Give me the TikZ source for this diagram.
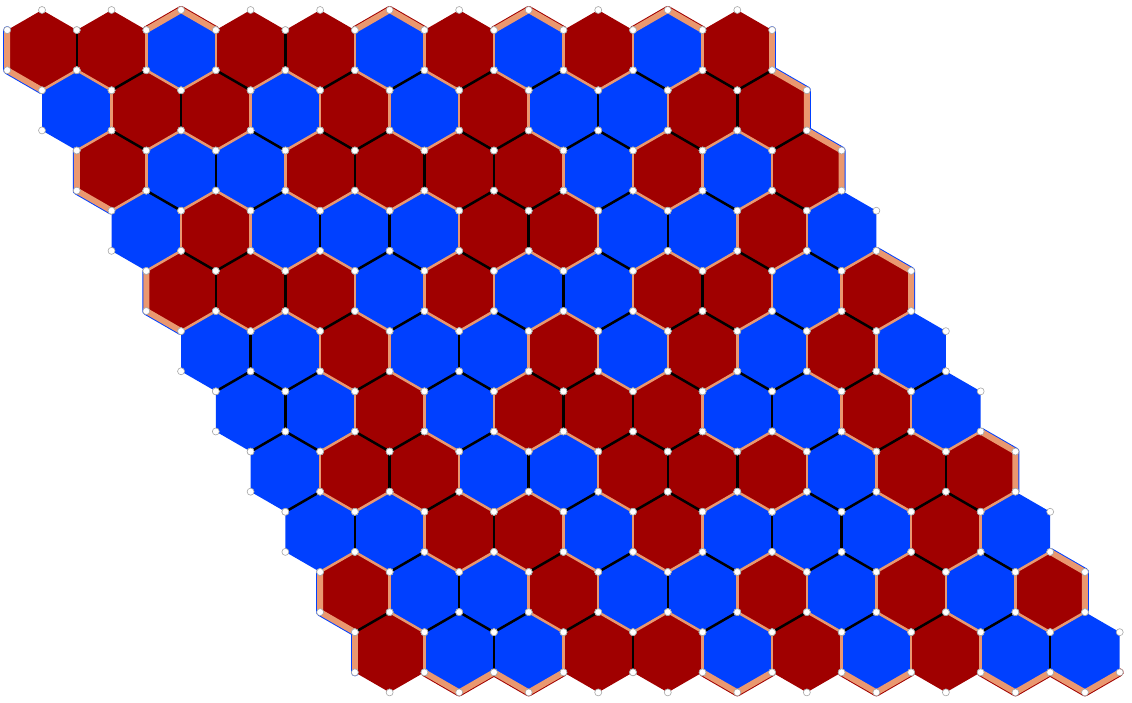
\documentclass[tikz,border=0pt]{standalone}
\definecolor{hexR}{RGB}{160,0,0}
\definecolor{hexB}{RGB}{0,64,255}
\definecolor{seam}{RGB}{234,152,112}
% cell colours: 1 = red, 0 = blue
\newcommand\setrow[2]{\foreach \k [count=\cc from 0] in {#2}{\expandafter\xdef\csname hc-#1-\cc\endcsname{\k}}}
\setrow{0}{1,1,0,1,1,0,1,0,1,0,1}
\setrow{1}{0,1,1,0,1,0,1,0,0,1,1}
\setrow{2}{1,0,0,1,1,1,1,0,1,0,1}
\setrow{3}{0,1,0,0,0,1,1,0,0,1,0}
\setrow{4}{1,1,1,0,1,0,0,1,1,0,1}
\setrow{5}{0,0,1,0,0,1,0,1,0,1,0}
\setrow{6}{0,0,1,0,1,1,1,0,0,1,0}
\setrow{7}{0,1,1,0,0,1,1,1,0,1,1}
\setrow{8}{0,0,1,1,0,1,0,0,0,1,0}
\setrow{9}{1,0,0,1,0,0,1,0,1,0,1}
\setrow{10}{1,0,0,1,1,0,1,0,1,0,0}
\def\hh{34.765}\def\hs{40.14}\def\hq{20.07}
\newcommand\cellpos{\pgfmathsetmacro\cx{42+69.53*(\c+\r/2)}\pgfmathsetmacro\cy{50.15+60.21*\r}\edef\k{\csname hc-\r-\c\endcsname}}
\newcommand\rimpass[2]{%
\foreach \r in {0,...,10}{\foreach \c in {0,...,10}{\cellpos
  \ifnum\r=0 \ifnum\k=0 \draw[#1,shift={(\cx,\cy)}] (-\hh,-\hq) -- (0,-\hs) -- (\hh,-\hq);\fi\fi
  \ifnum\r=10 \ifnum\k=0 \draw[#1,shift={(\cx,\cy)}] (-\hh,\hq) -- (0,\hs) -- (\hh,\hq);\fi\fi
  \ifnum\c=0 \ifnum\k=1 \ifnum\r<10 \draw[#2,shift={(\cx,\cy)}] (-\hh,-\hq) -- (-\hh,\hq) -- (0,\hs);\else \draw[#2,shift={(\cx,\cy)}] (-\hh,-\hq) -- (-\hh,\hq);\fi\fi\fi
  \ifnum\c=10 \ifnum\k=1 \ifnum\r>0 \draw[#2,shift={(\cx,\cy)}] (0,-\hs) -- (\hh,-\hq) -- (\hh,\hq);\else \draw[#2,shift={(\cx,\cy)}] (\hh,-\hq) -- (\hh,\hq);\fi\fi\fi
}}}
\tikzset{
  edgeSame/.style={draw=black,line width=2.5pt},
  edgeDiff/.style={draw=seam,line width=2.5pt},
  rimUnderR/.style={draw=hexR,line width=8pt,line cap=round,line join=round},
  rimUnderB/.style={draw=hexB,line width=8pt,line cap=round,line join=round},
  rimSeam/.style={draw=seam,line width=6pt,line cap=round,line join=round},
  vdot/.style={fill=white,draw=black!35,line width=0.6pt}
}
\begin{document}
\begin{tikzpicture}[x=1pt,y=-1pt]
\useasboundingbox (0,0) rectangle (1132,702);
% boundary colour under the rim seams
\rimpass{rimUnderR}{rimUnderB}
% cells
\foreach \r in {0,...,10}{\foreach \c in {0,...,10}{\cellpos
  \ifnum\k=1 \def\fc{hexR}\else\def\fc{hexB}\fi
  \fill[\fc,shift={(\cx,\cy)}] (0,-\hs) -- (\hh,-\hq) -- (\hh,\hq) -- (0,\hs) -- (-\hh,\hq) -- (-\hh,-\hq) -- cycle;
}}
% inner edges
\foreach \r in {0,...,10}{\foreach \c in {0,...,10}{\cellpos
  \ifnum\c<10
    \edef\kn{\csname hc-\r-\the\numexpr\c+1\relax\endcsname}%
    \ifx\k\kn\def\es{edgeSame}\else\def\es{edgeDiff}\fi
    \draw[\es,shift={(\cx,\cy)}] (\hh,-\hq) -- (\hh,\hq);
  \fi
  \ifnum\r<10
    \edef\kn{\csname hc-\the\numexpr\r+1\relax-\c\endcsname}%
    \ifx\k\kn\def\es{edgeSame}\else\def\es{edgeDiff}\fi
    \draw[\es,shift={(\cx,\cy)}] (\hh,\hq) -- (0,\hs);
    \ifnum\c>0
      \edef\kn{\csname hc-\the\numexpr\r+1\relax-\the\numexpr\c-1\relax\endcsname}%
      \ifx\k\kn\def\es{edgeSame}\else\def\es{edgeDiff}\fi
      \draw[\es,shift={(\cx,\cy)}] (0,\hs) -- (-\hh,\hq);
    \fi
  \fi
}}
% rim seams
\rimpass{rimSeam}{rimSeam}
% vertex dots
\foreach \r in {0,...,10}{\foreach \c in {0,...,10}{\cellpos
  \foreach \vx/\vy in {0/-\hs,\hh/-\hq,\hh/\hq,0/\hs,-\hh/\hq,-\hh/-\hq}{
    \filldraw[vdot,shift={(\cx,\cy)}] (\vx,\vy) circle[radius=3.5];
  }
}}
\end{tikzpicture}
\end{document}
